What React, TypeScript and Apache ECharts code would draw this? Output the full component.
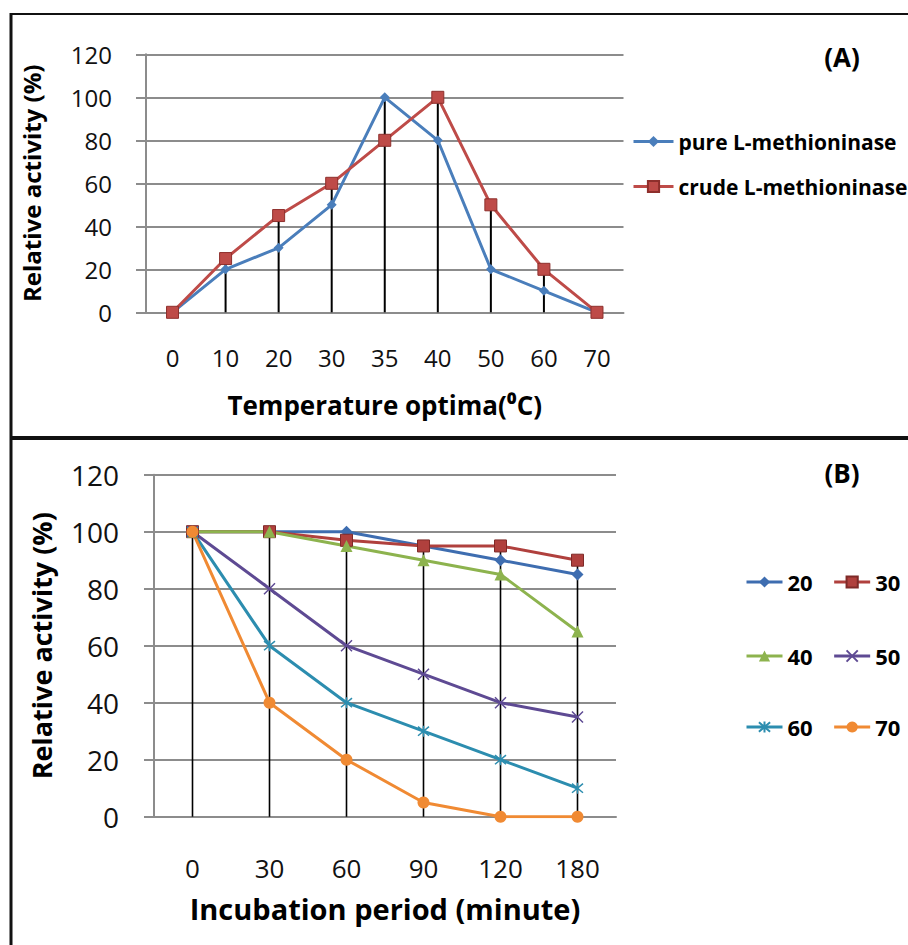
import React, { useEffect, useRef } from "react";
import * as echarts from "echarts";

// ---- Panel A data ----
const tempCategories = ["0", "10", "20", "30", "35", "40", "50", "60", "70"];
const pureActivity = [0, 20, 30, 50, 100, 80, 20, 10, 0];
const crudeActivity = [0, 25, 45, 60, 80, 100, 50, 20, 0];

// ---- Panel B data ----
const timeCategories = ["0", "30", "60", "90", "120", "180"];
const act20 = [100, 100, 100, 95, 90, 85];
const act30 = [100, 100, 97, 95, 95, 90];
const act40 = [100, 100, 95, 90, 85, 65];
const act50 = [100, 80, 60, 50, 40, 35];
const act60 = [100, 60, 40, 30, 20, 10];
const act70 = [100, 40, 20, 5, 0, 0];

const yTicks = [0, 20, 40, 60, 80, 100, 120];

const FONT = "Open Sans";
const GRID_GRAY = "#8c8c8c";

const X_MARK = "path://M0,0L10,10M10,0L0,10";
const STAR_MARK = "path://M0,0L10,10M10,0L0,10M5,-1L5,11";

export default function App() {
  const ref = useRef<HTMLDivElement>(null);

  useEffect(() => {
    if (!ref.current) return;
    const chart = echarts.init(ref.current, null, { renderer: "svg" });

    const dropA = tempCategories.map((_, i) => Math.max(pureActivity[i], crudeActivity[i]));
    const seriesB = [act20, act30, act40, act50, act60, act70];
    const dropB = timeCategories.map((_, i) => Math.max(...seriesB.map((s) => s[i])));

    const yAxisBase = (grid: number, fontSize: number, margin: number, nameSize: number, nameGap: number) => ({
      type: "value",
      gridIndex: grid,
      min: yTicks[0],
      max: yTicks[yTicks.length - 1],
      interval: yTicks[1] - yTicks[0],
      name: "Relative activity (%)",
      nameLocation: "middle",
      nameGap,
      nameTextStyle: { fontFamily: FONT, fontSize: nameSize, fontWeight: "bold", color: "#000" },
      axisLine: { show: true, lineStyle: { color: GRID_GRAY, width: 2 } },
      axisTick: { show: true, length: 10, lineStyle: { color: GRID_GRAY, width: 2 } },
      axisLabel: { fontFamily: FONT, fontSize, margin, color: "#111", lineHeight: fontSize },
      splitLine: { show: true, lineStyle: { color: GRID_GRAY, width: 2 } },
    });

    const lineSeries = (
      name: string,
      data: number[],
      color: string,
      symbol: string,
      symbolSize: number,
      xi: number,
      extra: any = {}
    ) => ({
      type: "line",
      name,
      data,
      xAxisIndex: xi,
      yAxisIndex: xi,
      symbol,
      symbolSize,
      showAllSymbol: true,
      lineStyle: { color, width: 3 },
      itemStyle: { color, ...(extra.itemStyle || {}) },
      emphasis: { disabled: true },
      z: 3,
    });

    const legendB = (items: string[], top: number) => ({
      orient: "horizontal",
      left: 745,
      top,
      width: 163,
      padding: 0,
      itemWidth: 36,
      itemHeight: 14,
      itemGap: 20,
      data: items,
      lineStyle: { width: 3 },
      textStyle: { fontFamily: FONT, fontSize: 22, fontWeight: "bold", color: "#000" },
      selectedMode: false,
    });

    const option: any = {
      animation: false,
      backgroundColor: "#fff",
      textStyle: { fontFamily: FONT },
      grid: [
        { left: 146, top: 54.3, width: 477.5, height: 258 },
        { left: 154, top: 474.7, width: 462, height: 342 },
      ],
      xAxis: [
        {
          type: "category",
          gridIndex: 0,
          data: tempCategories,
          name: "Temperature optima(⁰C)",
          nameLocation: "middle",
          nameGap: 80,
          nameTextStyle: { fontFamily: FONT, fontSize: 26, fontWeight: "bold", color: "#000" },
          axisLine: { show: true, lineStyle: { color: GRID_GRAY, width: 2 } },
          axisTick: { show: false },
          axisLabel: { fontFamily: FONT, fontSize: 24, margin: 33, color: "#111", lineHeight: 24 },
          splitLine: { show: false },
        },
        {
          type: "category",
          gridIndex: 1,
          data: timeCategories,
          name: "Incubation period (minute)",
          nameLocation: "middle",
          nameGap: 77,
          nameTextStyle: { fontFamily: FONT, fontSize: 29, fontWeight: "bold", color: "#000" },
          axisLine: { show: true, lineStyle: { color: GRID_GRAY, width: 2 } },
          axisTick: { show: false },
          axisLabel: { fontFamily: FONT, fontSize: 26, margin: 38, color: "#111", lineHeight: 26 },
          splitLine: { show: false },
        },
      ],
      yAxis: [yAxisBase(0, 24, 34, 24, 103), yAxisBase(1, 28, 35, 27, 99)],
      legend: [
        {
          orient: "vertical",
          left: 632,
          top: 131,
          padding: 0,
          itemWidth: 40,
          itemHeight: 14,
          itemGap: 24,
          data: ["pure L-methioninase", "crude L-methioninase"],
          lineStyle: { width: 3 },
          textStyle: { fontFamily: FONT, fontSize: 21, fontWeight: "bold", color: "#000" },
          selectedMode: false,
        },
        legendB(["20", "30"], 571),
        legendB(["40", "50"], 645),
        legendB(["60", "70"], 716),
      ],
      series: [
        {
          type: "bar",
          name: "dropA",
          data: dropA,
          xAxisIndex: 0,
          yAxisIndex: 0,
          barWidth: 2,
          itemStyle: { color: "#000" },
          silent: true,
          z: 2,
        },
        {
          type: "bar",
          name: "dropB",
          data: dropB,
          xAxisIndex: 1,
          yAxisIndex: 1,
          barWidth: 1.6,
          itemStyle: { color: "#000" },
          silent: true,
          z: 2,
        },
        lineSeries("pure L-methioninase", pureActivity, "#4A7EBB", "diamond", 10, 0),
        lineSeries("crude L-methioninase", crudeActivity, "#BE4B48", "rect", 12, 0, {
          itemStyle: { borderColor: "#8E2F2C", borderWidth: 1 },
        }),
        lineSeries("20", act20, "#3E6DB0", "diamond", 12, 1),
        lineSeries("30", act30, "#B0403D", "rect", 12, 1, {
          itemStyle: { borderColor: "#7E2A28", borderWidth: 1 },
        }),
        lineSeries("40", act40, "#8DB34E", "triangle", 12, 1),
        lineSeries("50", act50, "#5E4A93", X_MARK, 11, 1, {
          itemStyle: { borderColor: "#5E4A93", borderWidth: 1.5 },
        }),
        lineSeries("60", act60, "#2C8DAF", STAR_MARK, 11, 1, {
          itemStyle: { borderColor: "#2C8DAF", borderWidth: 1.5 },
        }),
        lineSeries("70", act70, "#F08A33", "circle", 12, 1),
      ],
      graphic: [
        { type: "line", shape: { x1: 11, y1: 14, x2: 908, y2: 14 }, style: { stroke: "#111", lineWidth: 2 } },
        { type: "line", shape: { x1: 11, y1: 13, x2: 11, y2: 945 }, style: { stroke: "#111", lineWidth: 3 } },
        { type: "line", shape: { x1: 10, y1: 438, x2: 908, y2: 438 }, style: { stroke: "#111", lineWidth: 4 } },
        {
          type: "text",
          x: 842,
          y: 57,
          style: {
            text: "(A)",
            fontFamily: FONT,
            fontSize: 26,
            fontWeight: "bold",
            fill: "#000",
            align: "center",
            verticalAlign: "middle",
          },
        },
        {
          type: "text",
          x: 842,
          y: 473,
          style: {
            text: "(B)",
            fontFamily: FONT,
            fontSize: 26,
            fontWeight: "bold",
            fill: "#000",
            align: "center",
            verticalAlign: "middle",
          },
        },
      ],
    };

    chart.setOption(option);
    return () => chart.dispose();
  }, []);

  return (
    <div
      ref={ref}
      style={{ position: "fixed", left: 0, top: 0, width: 908, height: 945, background: "#fff" }}
    />
  );
}
